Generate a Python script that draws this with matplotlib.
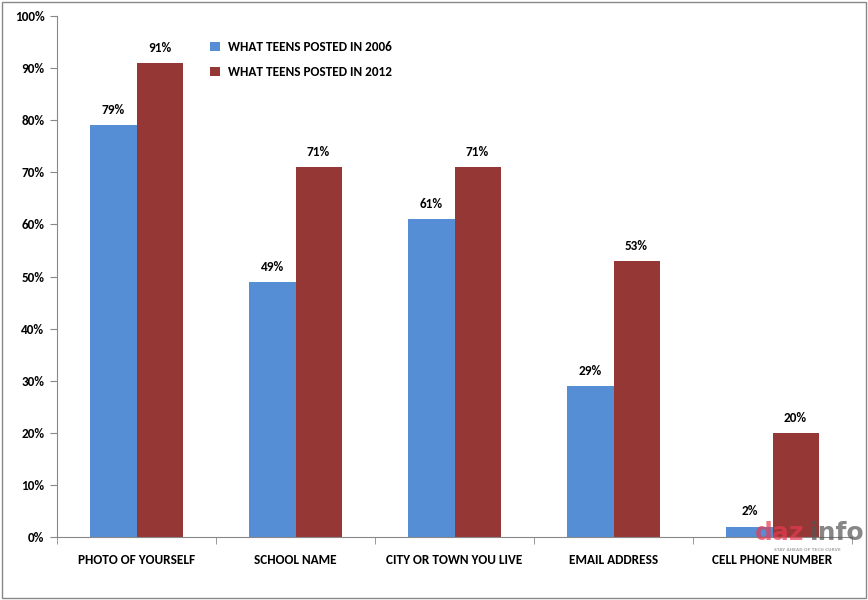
import numpy as np
import matplotlib.pyplot as plt
from matplotlib.patches import Rectangle

plt.rcParams['font.family'] = ['Carlito', 'Lato', 'DejaVu Sans']
plt.rcParams['font.weight'] = 'bold'

categories = ["PHOTO OF YOURSELF", "SCHOOL NAME", "CITY OR TOWN YOU LIVE",
              "EMAIL ADDRESS", "CELL PHONE NUMBER"]
posted_2006 = [79, 49, 61, 29, 2]
posted_2012 = [91, 71, 71, 53, 20]
series_labels = ["WHAT TEENS POSTED IN 2006", "WHAT TEENS POSTED IN 2012"]

blue = "#558ed5"
red = "#953735"

fig = plt.figure(figsize=(8.68, 6), dpi=100)
fig.patches.append(Rectangle((0.002, 0.003), 0.996, 0.994, transform=fig.transFigure,
                             fill=False, edgecolor="#888888", linewidth=1))
ax = fig.add_axes([0.0657, 0.105, 0.9159, 0.8683])

x = np.arange(len(categories))
w = 0.29
b1 = ax.bar(x - w / 2, posted_2006, w, color=blue, label=series_labels[0])
b2 = ax.bar(x + w / 2, posted_2012, w, color=red, label=series_labels[1])

for bars, vals in ((b1, posted_2006), (b2, posted_2012)):
    for rect, v in zip(bars, vals):
        ax.text(rect.get_x() + rect.get_width() / 2, v + 2.9, f"{v}%",
                ha="center", va="center", fontsize=9.5, fontweight="bold")

ax.set_xlim(-0.5, len(categories) - 0.5)
ax.set_ylim(0, 100)
ax.set_yticks(np.arange(0, 101, 10))
ax.set_yticklabels([f"{t}%" for t in range(0, 101, 10)], fontsize=9.5, fontweight="bold")
ax.set_xticks(x)
ax.set_xticklabels(categories, fontsize=9.5, fontweight="bold")
ax.tick_params(axis="x", length=0, pad=12)
ax.set_xticks(np.arange(-0.5, len(categories), 1), minor=True)
ax.tick_params(axis="x", which="minor", length=5, color="#888888", direction="out")
ax.tick_params(axis="y", length=5, color="#888888", direction="out", pad=4)

for s in ("top", "right"):
    ax.spines[s].set_visible(False)
for s in ("left", "bottom"):
    ax.spines[s].set_color("#888888")

ax.legend(loc="upper left", bbox_to_anchor=(0.178, 0.975), frameon=False,
          handlelength=0.7, handleheight=0.7, handletextpad=0.6,
          labelspacing=1.0, prop={"weight": "bold", "size": 9.5})

# watermark
fig.text(0.870, 0.112, "daz", color="#e8394f", alpha=0.7, fontsize=18,
         fontweight="bold", ha="left", va="center", family="DejaVu Sans")
fig.text(0.933, 0.112, "info", color="#555555", alpha=0.7, fontsize=18,
         fontweight="bold", ha="left", va="center", family="DejaVu Sans")
fig.text(0.93, 0.084, "STAY AHEAD OF TECH CURVE", color="#aaaaaa", fontsize=3,
         ha="center", va="center", family="DejaVu Sans")

fig.savefig("out.png", dpi=100)
